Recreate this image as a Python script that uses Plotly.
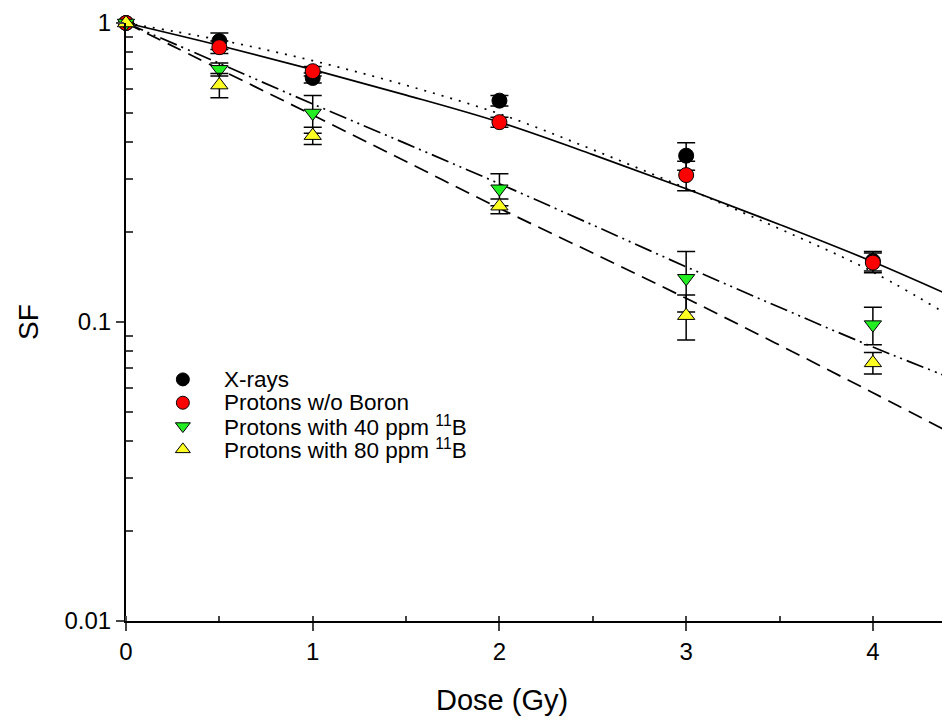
import plotly.graph_objects as go

# ---- data ----
dose = [0, 0.5, 1, 2, 3, 4]

xray_sf = [1.0, 0.87, 0.655, 0.55, 0.36, 0.16]
xray_err = [0, 0.055, 0.025, 0.022, 0.038, 0.012]

pwo_sf = [1.0, 0.83, 0.69, 0.466, 0.31, 0.158]
pwo_err = [0, 0.04, 0.025, 0.018, 0.035, 0.012]

p40_sf = [1.0, 0.70, 0.50, 0.279, 0.140, 0.098]
p40_err = [0, 0.035, 0.072, 0.034, 0.032, 0.014]

p80_sf = [1.0, 0.62, 0.42, 0.244, 0.105, 0.073]
p80_err = [0, 0.058, 0.028, 0.014, 0.018, 0.006]

# fitted curves
fit_dose = [0, 0.5, 1, 1.5, 2, 2.5, 3, 3.5, 4, 4.5]
fit_xray = [1.0, 0.878, 0.748, 0.619, 0.497, 0.377, 0.280, 0.205, 0.147, 0.097]
fit_pwo = [1.0, 0.841, 0.698, 0.574, 0.466, 0.363, 0.279, 0.212, 0.159, 0.116]
fit_p40 = [1.0, 0.733, 0.536, 0.395, 0.290, 0.211, 0.153, 0.112, 0.0825, 0.062]
fit_p80 = [1.0, 0.701, 0.492, 0.344, 0.240, 0.170, 0.120, 0.0837, 0.058, 0.040]

names = ["X-rays", "Protons w/o Boron",
         "Protons with 40 ppm <sup>11</sup>B", "Protons with 80 ppm <sup>11</sup>B"]

x_ticks = [0, 1, 2, 3, 4]
y_ticks = [0.01, 0.1, 1]
y_ticklabels = ["0.01", "0.1", "1"]

FONT = "Liberation Sans, Arial, sans-serif"
NARROW = "Liberation Sans Narrow, Arial Narrow, Liberation Sans, sans-serif"

symbols = ["circle", "circle", "triangle-down", "triangle-up"]
colors = ["black", "#ff0000", "#22ee22", "#ffff22"]
sizes = [15, 15, 15, 15]

fig = go.Figure()

# fitted curves
for yv, dash in [(fit_xray, "2px,7px"), (fit_pwo, "solid"),
                 (fit_p40, "18px,5px,2px,5px,2px,5px"), (fit_p80, "15px,8px")]:
    fig.add_trace(go.Scatter(x=fit_dose, y=yv, mode="lines", line_shape="spline",
                             line=dict(color="black", width=1.7, dash=dash),
                             showlegend=False, hoverinfo="skip"))

# data points with error bars
all_sf = [xray_sf, pwo_sf, p40_sf, p80_sf]
all_err = [xray_err, pwo_err, p40_err, p80_err]
for yv, ev, sym, col, sz, nm in zip(all_sf, all_err, symbols, colors, sizes, names):
    fig.add_trace(go.Scatter(
        x=dose, y=yv, mode="markers", name=nm, cliponaxis=False, showlegend=False,
        marker=dict(symbol=sym, color=col, size=sz, line=dict(color="black", width=1)),
        error_y=dict(type="data", array=ev, visible=True, color="black",
                     thickness=1.5, width=9),
    ))

# legend drawn inside the plot (overlay axis in 0..1 units)
leg_x_sym = 0.069
leg_x_txt = 0.1165
leg_rows = [0.404, 0.365, 0.326, 0.287]
for i, nm in enumerate(names):
    fig.add_trace(go.Scatter(
        x=[leg_x_sym], y=[leg_rows[i]], xaxis="x2", yaxis="y2", mode="markers",
        showlegend=False, hoverinfo="skip",
        marker=dict(symbol=symbols[i], color=colors[i], size=13,
                    line=dict(color="black", width=1))))
    fig.add_annotation(x=leg_x_txt, y=leg_rows[i], xref="paper", yref="paper",
                       text=nm, showarrow=False, xanchor="left", yanchor="middle",
                       font=dict(family=FONT, size=22.5, color="black"))

# x-axis title (centred as in the original figure)
fig.add_annotation(x=0.456, y=-0.132, xref="paper", yref="paper",
                   text="Dose (Gy)", showarrow=False, xanchor="center", yanchor="middle",
                   font=dict(family=NARROW, size=29, color="black"))

fig.update_layout(
    width=942, height=712,
    margin=dict(l=118, r=0, t=15, b=99),
    paper_bgcolor="white", plot_bgcolor="white",
    font=dict(family=FONT, size=20, color="black"),
    showlegend=False,
    xaxis=dict(range=[0, 4.413], tickvals=x_ticks, ticks="outside", ticklen=8,
               tickwidth=1.5, showline=True, linecolor="black", linewidth=2,
               showgrid=False, zeroline=False,
               minor=dict(ticks="inside", ticklen=5, tickwidth=1.5, dtick=0.5,
                          showgrid=False),
               tickfont=dict(size=24, family=NARROW)),
    yaxis=dict(type="log", range=[-2, 0], tickvals=y_ticks, ticktext=y_ticklabels,
               ticks="outside", ticklen=8, tickwidth=1.5, showline=True,
               linecolor="black", linewidth=2, showgrid=False, zeroline=False,
               minor=dict(ticks="inside", ticklen=7, tickwidth=1.5,
                          tickvals=[m * 10 ** e for e in (-2, -1) for m in range(2, 10)],
                          showgrid=False),
               title=dict(text="SF", font=dict(size=28, family=FONT), standoff=18),
               tickfont=dict(size=24, family=NARROW)),
    xaxis2=dict(range=[0, 1], overlaying="x", visible=False, fixedrange=True),
    yaxis2=dict(range=[0, 1], overlaying="y", visible=False, fixedrange=True),
)

fig.write_html("out.html")
